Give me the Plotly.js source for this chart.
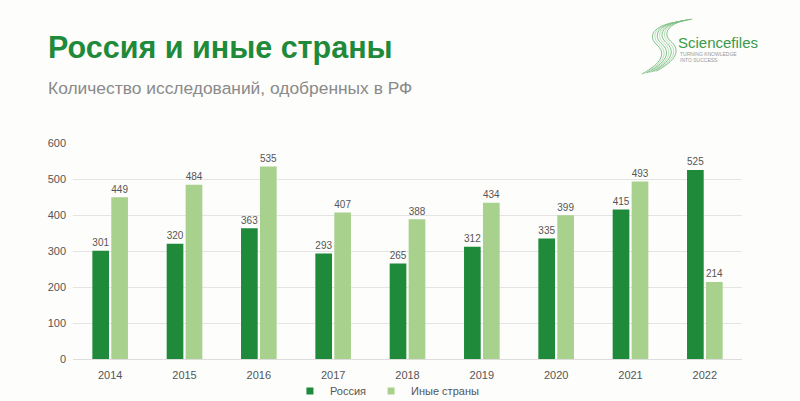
<!DOCTYPE html>
<html><head><meta charset="utf-8">
<script src="https://cdn.plot.ly/plotly-3.0.1.min.js"></script>
<style>html,body{margin:0;padding:0;background:#fdfdfb;}#chart{width:800px;height:401px;}</style>
</head><body><div id="chart"></div>
<script>
const years = ['2014','2015','2016','2017','2018','2019','2020','2021','2022'];
const russia = [301,320,363,293,265,312,335,415,525];
const other = [449,484,535,407,388,434,399,493,214];
const seriesNames = ['Россия','Иные страны'];
const colors = ['#1f8a3a','#a9d18e'];

const L=73, R=58, T=143, B=42, W=800, H=401;
const pw = W-L-R, ph = H-T-B;
function px(x){return (x-L)/pw;}
function py(y){return (H-B-y)/ph;}

const shapes=[];
for(let i=0;i<7;i++){
  const o=i*2.4;
  const x0=642+o, y0=74-o*0.2;
  shapes.push({type:'path',xref:'paper',yref:'paper',
    path:`M ${px(x0)},${py(y0)} C ${px(x0+18)},${py(y0-10)} ${px(x0+26)},${py(y0-20)} ${px(x0+14)},${py(y0-30)} C ${px(x0+4)},${py(y0-40)} ${px(x0+16)},${py(y0-50)} ${px(x0+36)},${py(y0-52)}`,
    line:{color:i%2?'#a6d4a6':'#5fae6a',width:0.8}});
}

const tf = {color:'#555',size:11,family:'Liberation Sans, Arial, sans-serif'};
const data = [
  {type:'bar',name:seriesNames[0],x:years,y:russia,marker:{color:colors[0]},
   text:russia.map(String),textposition:'outside',cliponaxis:false,textfont:tf,showlegend:false},
  {type:'bar',name:seriesNames[1],x:years,y:other,marker:{color:colors[1]},
   text:other.map(String),textposition:'outside',cliponaxis:false,textfont:tf,showlegend:false},
  {type:'scatter',mode:'markers',name:seriesNames[0],x:[null],y:[null],
   marker:{symbol:'square',size:7,color:colors[0]},showlegend:true},
  {type:'scatter',mode:'markers',name:seriesNames[1],x:[null],y:[null],
   marker:{symbol:'square',size:7,color:colors[1]},showlegend:true}
];

const layout = {
  width:W,height:H,
  paper_bgcolor:'#fdfdfb',plot_bgcolor:'#fdfdfb',
  margin:{l:L,r:R,t:T,b:B,autoexpand:false},
  font:{family:'Liberation Sans, Arial, sans-serif',color:'#555',size:11},
  barmode:'group',bargap:0.49,bargroupgap:0.12,
  showlegend:true,
  legend:{orientation:'h',x:0.47,xanchor:'center',y:py(391),yanchor:'middle',
    bgcolor:'rgba(0,0,0,0)',font:{size:11,color:'#555'},itemwidth:30,traceorder:'normal'},
  xaxis:{type:'category',showgrid:false,zeroline:false,showline:true,linecolor:'#ddd',linewidth:1,
    ticks:'',tickfont:{size:11,color:'#555'},ticklabelstandoff:6},
  yaxis:{range:[0,600],dtick:100,showgrid:true,gridcolor:'#e4e4e4',zeroline:false,
    ticks:'',tickfont:{size:11,color:'#555'},ticklabelstandoff:6},
  shapes:shapes,
  annotations:[
    {xref:'paper',yref:'paper',x:px(46),y:py(47),xanchor:'left',yanchor:'middle',showarrow:false,
     text:'<b>Россия и иные страны</b>',font:{size:30.5,color:'#1e8a3a',family:'Liberation Sans, Arial, sans-serif'}},
    {xref:'paper',yref:'paper',x:px(46),y:py(88),xanchor:'left',yanchor:'middle',showarrow:false,
     text:'Количество исследований, одобренных в РФ',font:{size:17.4,color:'#8a8a8a',family:'Liberation Sans, Arial, sans-serif'}},
    {xref:'paper',yref:'paper',x:px(676),y:py(42),xanchor:'left',yanchor:'middle',showarrow:false,
     text:'Sciencefiles',font:{size:15,color:'#3a9a4a',family:'Liberation Sans, Arial, sans-serif'}},
    {xref:'paper',yref:'paper',x:px(678),y:py(54),xanchor:'left',yanchor:'middle',showarrow:false,
     text:'TURNING KNOWLEDGE',font:{size:5,color:'#999'}},
    {xref:'paper',yref:'paper',x:px(678),y:py(60),xanchor:'left',yanchor:'middle',showarrow:false,
     text:'INTO SUCCESS',font:{size:5,color:'#999'}}
  ]
};
Plotly.newPlot('chart',data,layout,{displayModeBar:false,staticPlot:true});
</script></body></html>
